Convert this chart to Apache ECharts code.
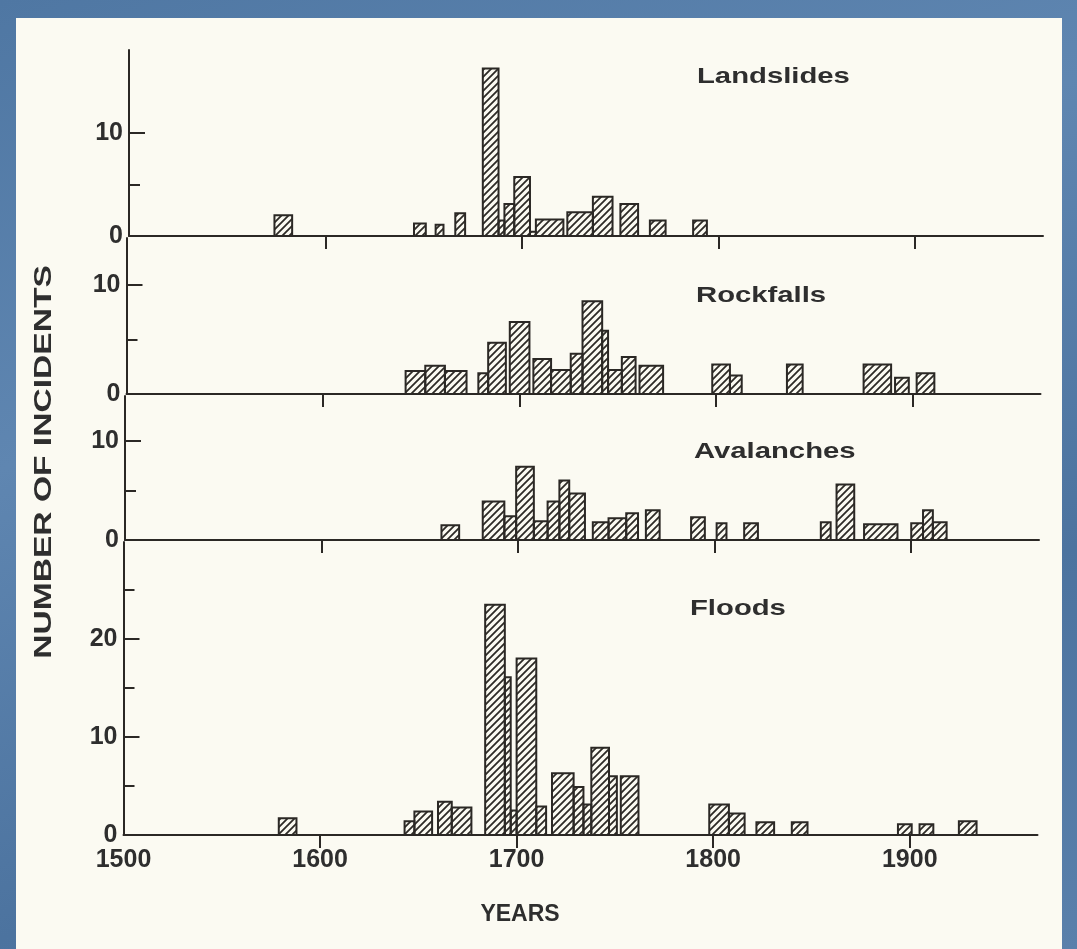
<!DOCTYPE html>
<html><head><meta charset="utf-8">
<script src="https://cdn.jsdelivr.net/npm/echarts@6/dist/echarts.min.js"></script>
<style>
html,body{margin:0;padding:0;}
#c{width:1077px;height:949px;background:linear-gradient(160deg,#4f77a3 0%,#5f86b1 35%,#4c739f 70%,#5a80ab 100%);}
</style>
</head><body><div id="c"></div>
<script>
// ---- data (bins) ----
const landslideStart = [1574,1645,1656,1666,1680,1688,1691,1696,1704,1707,1723,1736,1750,1765,1787];
const landslideEnd   = [1583,1651,1660,1671,1688,1691,1696,1704,1707,1721,1736,1746,1759,1773,1794];
const landslideCount = [2,1.2,1.1,2.2,16.2,1.5,3.1,5.7,0.4,1.6,2.3,3.8,3.1,1.5,1.5];

const rockfallStart = [1642,1652,1662,1679,1684,1695,1707,1716,1726,1732,1742,1745,1752,1761,1798,1807,1836,1875,1891,1902];
const rockfallEnd   = [1652,1662,1673,1684,1693,1705,1716,1726,1732,1742,1745,1752,1759,1773,1807,1813,1844,1889,1898,1911];
const rockfallCount = [2.1,2.6,2.1,1.9,4.7,6.6,3.2,2.2,3.7,8.5,5.8,2.2,3.4,2.6,2.7,1.7,2.7,2.7,1.5,1.9];

const avalancheStart = [1661,1682,1693,1699,1708,1715,1721,1726,1738,1746,1755,1765,1788,1801,1815,1854,1862,1876,1900,1906,1911];
const avalancheEnd   = [1670,1693,1699,1708,1715,1721,1726,1734,1746,1755,1761,1772,1795,1806,1822,1859,1871,1893,1906,1911,1918];
const avalancheCount = [1.5,3.9,2.4,7.4,1.9,3.9,6,4.7,1.8,2.2,2.7,3,2.3,1.7,1.7,1.8,5.6,1.6,1.7,3,1.8];

const floodStart = [1579,1643,1648,1660,1667,1684,1694,1697,1700,1710,1718,1729,1734,1738,1747,1753,1798,1808,1822,1840,1894,1905,1925];
const floodEnd   = [1588,1648,1657,1667,1677,1694,1697,1700,1710,1715,1729,1734,1738,1747,1751,1762,1808,1816,1831,1848,1901,1912,1934];
const floodCount = [1.7,1.4,2.4,3.4,2.8,23.5,16.1,2.5,18,2.9,6.3,4.9,3.1,8.9,6,6,3.1,2.2,1.3,1.3,1.1,1.1,1.4];

const panelNames = ['Landslides','Rockfalls','Avalanches','Floods'];
const yearTicks = [1600,1700,1800,1900];
const yearLabels = [1500,1600,1700,1800,1900];
const majorTicks = [[10],[10],[10],[10,20]];
const minorTicks = [[5],[5],[5],[5,15,25]];
const yLabels = [[0,10],[0,10],[0,10],[0,10,20]];
const yMax = [18,14.3,14.55,29.9];

// ---- layout / style ----
const INK = '#2b2825';
const layout = [
  {left:129, top:50,  height:186},
  {left:126.5, top:238, height:156},
  {left:125, top:396, height:144},
  {left:123.5, top:542, height:293}
];
const titlePos = [[697,77],[696,296],[694,452],[690,609]];
const XW = 914;

const hc = document.createElement('canvas');
hc.width = 7; hc.height = 7;
const g = hc.getContext('2d');
g.strokeStyle = '#2d2a26'; g.lineWidth = 1.8; g.lineCap = 'square';
g.beginPath();
g.moveTo(-1,8); g.lineTo(8,-1);
g.moveTo(-2,2); g.lineTo(2,-2);
g.moveTo(5,9); g.lineTo(9,5);
g.stroke();
const hatch = {image: hc, repeat: 'repeat'};

const sets = [
  [landslideStart, landslideEnd, landslideCount],
  [rockfallStart, rockfallEnd, rockfallCount],
  [avalancheStart, avalancheEnd, avalancheCount],
  [floodStart, floodEnd, floodCount]
];

function renderBar(params, api) {
  const s = api.value(0), e = api.value(1), v = api.value(2);
  const p0 = api.coord([s, v]);
  const p1 = api.coord([e, 0]);
  return {
    type: 'rect',
    shape: {x: p0[0], y: p0[1], width: p1[0]-p0[0], height: p1[1]-p0[1]},
    style: {fill: hatch, stroke: INK, lineWidth: 2}
  };
}

const labelFont = {fontSize: 25, fontFamily: 'Liberation Sans', fontWeight: 'bold', color: '#2e2e2e'};
const grid = [], xAxis = [], yAxis = [], series = [];
layout.forEach((L, i) => {
  grid.push({left: L.left, top: L.top, width: XW, height: L.height, containLabel: false});
  const last = i === 3;
  xAxis.push({
    type: 'value', gridIndex: i, min: 1500, max: 1965, interval: 100,
    axisLine: {show: true, onZero: false, lineStyle: {color: INK, width: 2}},
    axisTick: {show: true, customValues: yearTicks, inside: false, length: 13, lineStyle: {color: INK, width: 2}},
    axisLabel: Object.assign({show: last, customValues: yearLabels, margin: 13, formatter: v => String(v)}, labelFont),
    splitLine: {show: false}
  });
  yAxis.push({
    type: 'value', gridIndex: i, min: 0, max: yMax[i], position: 'left',
    axisLine: {show: true, lineStyle: {color: INK, width: 2}},
    axisTick: {show: true, customValues: majorTicks[i], inside: true, length: 16, lineStyle: {color: INK, width: 2}},
    axisLabel: Object.assign({show: true, customValues: yLabels[i], margin: 6, formatter: v => String(v)}, labelFont),
    splitLine: {show: false}
  });
  yAxis.push({
    type: 'value', gridIndex: i, min: 0, max: yMax[i], position: 'left', offset: 0,
    axisLine: {show: false},
    axisTick: {show: true, customValues: minorTicks[i], inside: true, length: 11, lineStyle: {color: INK, width: 2}},
    axisLabel: {show: false},
    splitLine: {show: false}
  });
  const d = sets[i];
  series.push({
    type: 'custom', name: panelNames[i], xAxisIndex: i, yAxisIndex: 2*i,
    coordinateSystem: 'cartesian2d',
    encode: {x: [0, 1], y: 2},
    data: d[0].map((s, k) => [s, d[1][k], d[2][k]]),
    renderItem: renderBar, silent: true, animation: false
  });
});

const graphic = [
  {type: 'rect', z: -100, silent: true, shape: {x: 16, y: 18, width: 1046, height: 940}, style: {fill: '#fbfaf2'}}
];
panelNames.forEach((n, i) => {
  graphic.push({type: 'text', x: titlePos[i][0], y: titlePos[i][1], scaleX: 1.33, silent: true,
    style: {text: n, fontSize: 22, fontWeight: 'bold', fontFamily: 'Liberation Sans', fill: '#2e2e2e', align: 'left', verticalAlign: 'middle'}});
});
graphic.push({type: 'text', x: 45, y: 462, rotation: Math.PI/2, scaleX: 1.46, silent: true,
  style: {text: 'NUMBER OF INCIDENTS', fontSize: 23, fontWeight: 'bold', fontFamily: 'Liberation Sans', fill: '#2e2e2e', align: 'center', verticalAlign: 'middle'}});
graphic.push({type: 'text', x: 520, y: 915, silent: true,
  style: {text: 'YEARS', fontSize: 23, fontWeight: 'bold', fontFamily: 'Liberation Sans', fill: '#2e2e2e', align: 'center', verticalAlign: 'middle'}});

const chart = echarts.init(document.getElementById('c'), null, {renderer: 'canvas'});
chart.setOption({
  backgroundColor: 'transparent',
  animation: false,
  grid, xAxis, yAxis, series, graphic
});
</script>
</body></html>
